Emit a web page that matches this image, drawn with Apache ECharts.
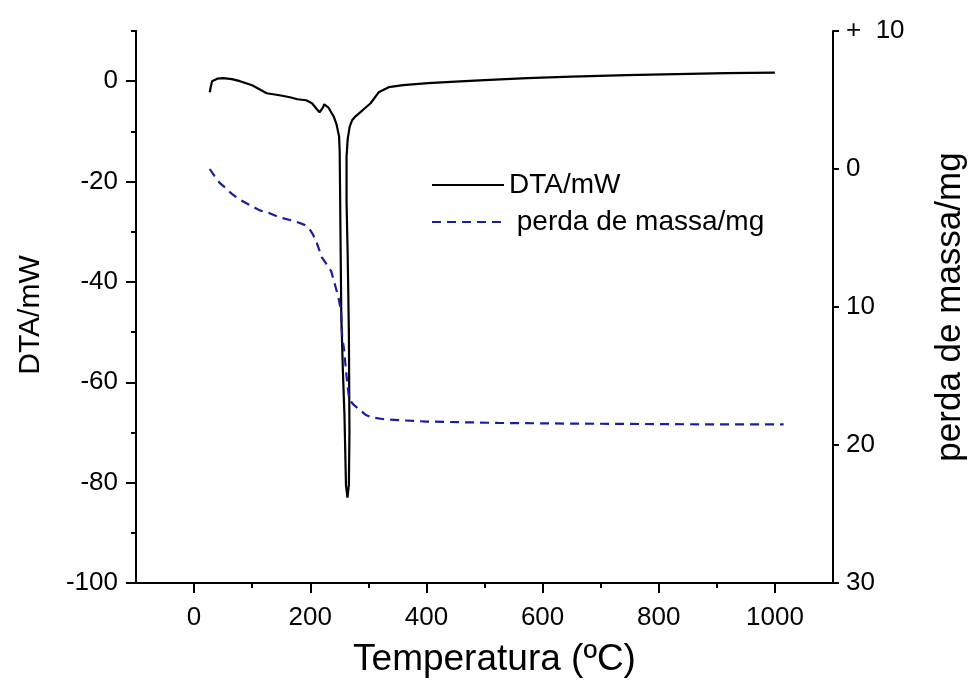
<!DOCTYPE html>
<html>
<head>
<meta charset="utf-8">
<script src="https://cdn.jsdelivr.net/npm/echarts@6/dist/echarts.min.js"></script>
<style>
html,body{margin:0;padding:0;background:#fff;}
#chart{width:976px;height:688px;}
</style>
</head>
<body>
<div id="chart"></div>
<script>
// DTA curve (black, left axis)
const dtaT = [27, 29, 31, 40, 50, 65, 79, 100, 125, 147, 165, 178, 193, 203, 210, 216, 219, 222, 224, 227, 231, 236, 241, 245, 249.6, 250.7, 252, 253.5, 256, 259, 261.5, 264, 266.5, 267.5, 266.5, 264.5, 262.5, 262.5, 264.5, 268, 272, 278, 284, 294, 304, 318, 335, 360, 403, 450, 500, 574, 650, 745, 830, 916, 1000];
const dtaV = [-2.2, -1, 0, 0.5, 0.6, 0.4, 0, -0.8, -2.4, -2.8, -3.2, -3.6, -3.8, -4.4, -5.4, -6.2, -6.4, -5.2, -4.6, -4.8, -5.2, -6.2, -7.2, -8.5, -11, -14, -30, -47, -57, -67, -80.5, -83, -80.5, -70, -50, -35, -24, -15, -11.5, -9, -7.8, -7, -6.4, -5.4, -4.4, -2.2, -1.2, -0.8, -0.4, -0.1, 0.2, 0.6, 0.9, 1.2, 1.4, 1.6, 1.7];
// mass loss curve (blue dashed, right axis, inverted)
const massT = [27, 35, 44, 55, 65, 78, 91, 113, 130, 147, 165, 181, 190, 198, 204, 210, 215, 220, 228, 236, 244, 249, 253, 255, 258, 260, 262, 264, 267, 275, 284, 295, 306, 330, 352, 400, 523, 650, 865, 1015];
const massV = [0, 0.5, 1.0, 1.4, 1.8, 2.2, 2.5, 3.0, 3.2, 3.5, 3.7, 3.9, 4.05, 4.3, 4.7, 5.2, 5.8, 6.4, 6.9, 7.4, 8.6, 9.4, 10.3, 12.2, 13.0, 13.9, 14.8, 15.6, 16.7, 17.1, 17.4, 17.8, 18.0, 18.15, 18.2, 18.3, 18.4, 18.45, 18.5, 18.5];
// axis ranges / ticks
const xRange = [-100, 1100];
const xLabels = [0, 200, 400, 600, 800, 1000];
const xMinorTicks = [100, 300, 500, 700, 900];
const leftRange = [-100, 10];
const leftLabels = [-100, -80, -60, -40, -20, 0];
const leftMinorTicks = [-90, -70, -50, -30, -10, 10];
const rightRange = [-10, 30];
const rightTopLabel = '+  10';
const seriesNames = ['DTA/mW', ' perda de massa/mg'];

const FONT = '"Liberation Sans", Arial, sans-serif';
const black = '#000';
const blue = '#1c1ca0';

const dtaData = dtaT.map((t, i) => [t, dtaV[i]]);
const massData = massT.map((t, i) => [t, massV[i]]);

const G = {left: 136, right: 142, top: 31, bottom: 105};
const axisLine = {show: true, onZero: false, lineStyle: {color: black, width: 2}};

const chart = echarts.init(document.getElementById('chart'));
chart.setOption({
  animation: false,
  backgroundColor: '#fff',
  textStyle: {fontFamily: FONT},
  legend: {
    orient: 'vertical',
    left: 431,
    top: 171,
    padding: 0,
    itemWidth: 72,
    itemHeight: 14,
    itemGap: 9,
    itemStyle: {opacity: 0},
    textStyle: {fontSize: 28, color: black, fontFamily: FONT},
    data: [seriesNames[0], seriesNames[1]]
  },
  grid: {left: G.left, right: G.right, top: G.top, bottom: G.bottom, containLabel: false},
  xAxis: [
    {
      type: 'value', position: 'bottom', min: xRange[0], max: xRange[1], interval: 100,
      name: 'Temperatura (ºC)', nameLocation: 'middle', nameGap: 58,
      nameTextStyle: {fontSize: 37, color: black, fontFamily: FONT, padding: [0, 0, 0, 20]},
      axisLine: axisLine,
      axisTick: {show: true, inside: false, length: 10, customValues: xLabels, lineStyle: {color: black, width: 2}},
      axisLabel: {
        fontSize: 26, color: black, margin: 22, fontFamily: FONT, customValues: xLabels,
        formatter: v => xLabels.includes(v) ? String(v) : ''
      },
      splitLine: {show: false}
    },
    {
      type: 'value', position: 'bottom', min: xRange[0], max: xRange[1], interval: 100,
      axisLine: axisLine,
      axisTick: {show: true, inside: false, length: 5, customValues: xMinorTicks, lineStyle: {color: black, width: 2}},
      axisLabel: {show: false},
      splitLine: {show: false}
    }
  ],
  yAxis: [
    {
      type: 'value', position: 'left', min: leftRange[0], max: leftRange[1], interval: 10,
      name: 'DTA/mW', nameLocation: 'middle', nameGap: 90,
      nameTextStyle: {fontSize: 30, color: black, fontFamily: FONT, padding: [0, 16, 0, 0]},
      axisLine: axisLine,
      axisTick: {show: true, inside: false, length: 10, customValues: leftLabels, lineStyle: {color: black, width: 2}},
      axisLabel: {
        fontSize: 26, color: black, margin: 18, fontFamily: FONT, customValues: leftLabels,
        formatter: v => leftLabels.includes(v) ? String(v) : ''
      },
      splitLine: {show: false}
    },
    {
      type: 'value', position: 'right', inverse: true,
      min: rightRange[0], max: rightRange[1], interval: 10,
      name: 'perda de massa/mg', nameLocation: 'middle', nameGap: 100,
      nameTextStyle: {fontSize: 35, color: black, fontFamily: FONT},
      axisLine: axisLine,
      axisTick: {show: true, inside: false, length: 6, lineStyle: {color: black, width: 2}},
      axisLabel: {
        fontSize: 26, color: black, margin: 13, fontFamily: FONT,
        formatter: v => v === rightRange[0] ? rightTopLabel : String(v)
      },
      splitLine: {show: false}
    },
    {
      type: 'value', position: 'left', min: leftRange[0], max: leftRange[1], interval: 10,
      axisLine: axisLine,
      axisTick: {show: true, inside: false, length: 5, customValues: leftMinorTicks, lineStyle: {color: black, width: 2}},
      axisLabel: {show: false},
      splitLine: {show: false}
    }
  ],
  series: [
    {
      name: seriesNames[0], type: 'line', xAxisIndex: 0, yAxisIndex: 0,
      data: dtaData, showSymbol: false, symbol: 'none', smooth: false,
      lineStyle: {color: black, width: 2.2},
      itemStyle: {color: black}
    },
    {
      name: seriesNames[1], type: 'line', xAxisIndex: 0, yAxisIndex: 1,
      data: massData, showSymbol: false, symbol: 'none', smooth: false,
      lineStyle: {color: blue, width: 2.2, type: [9, 6]},
      itemStyle: {color: blue}
    }
  ]
});
</script>
</body>
</html>
